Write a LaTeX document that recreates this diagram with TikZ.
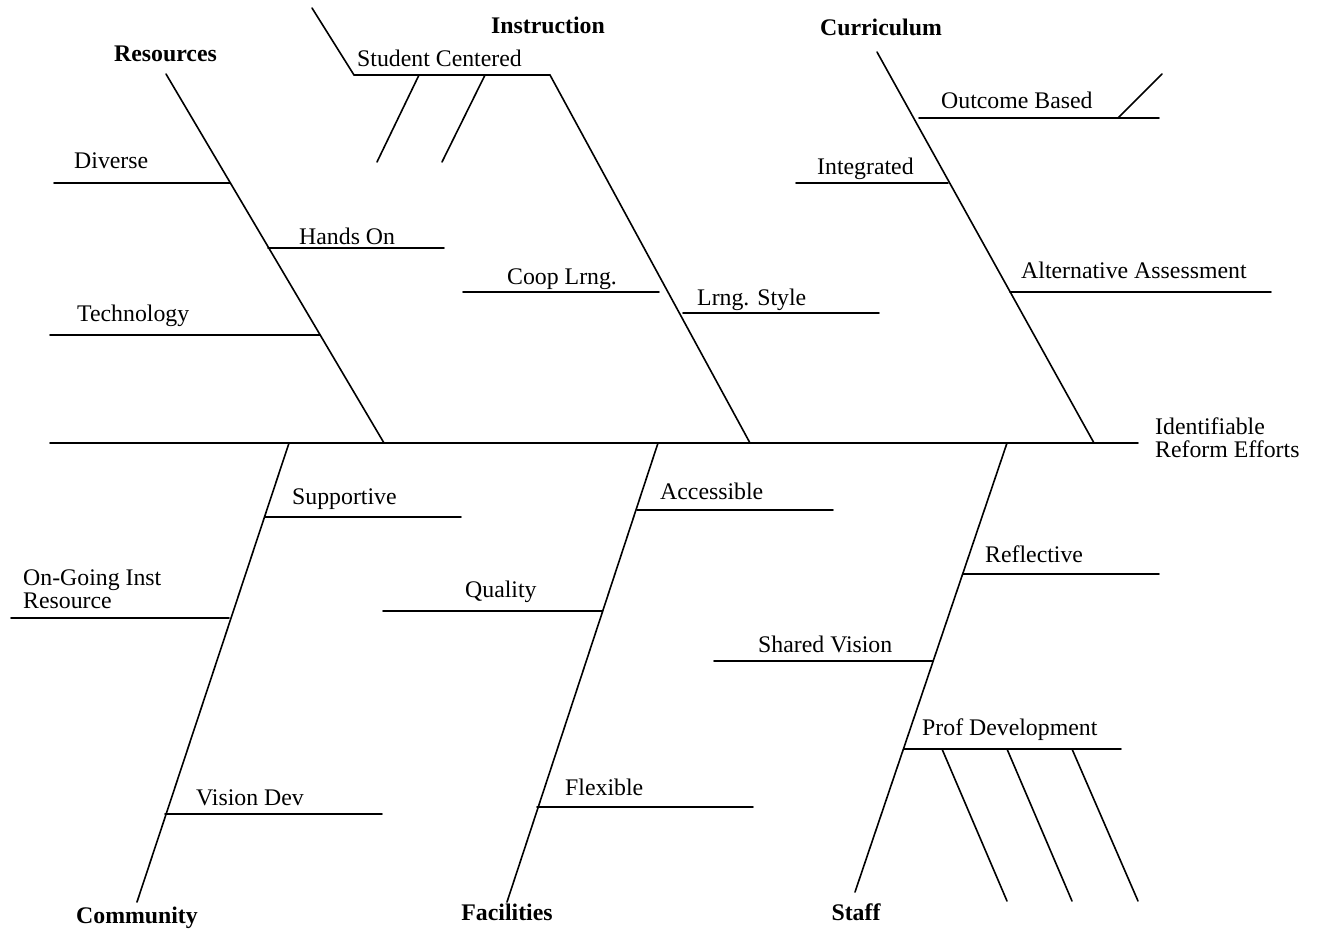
\documentclass[tikz,border=0pt]{standalone}
\usepackage{fontspec}
\setmainfont{Liberation Serif}
\begin{document}
\begin{tikzpicture}[x=1pt,y=-1pt,
  bone/.style={line width=1.6pt,line cap=round},
  lbl/.style={inner sep=0pt,anchor=base west,font=\fontsize{23.8}{23}\selectfont},
  head/.style={inner sep=0pt,anchor=base,font=\fontsize{23.8}{23}\selectfont\bfseries}]
\useasboundingbox (0,0) rectangle (1317,930);
% spine
\coordinate (sL) at (50,443);
\coordinate (sR) at (1138,443);
\draw[bone] (sL) -- (sR);
\node[lbl,align=left] (effect) at (1155,457) {Identifiable\\Reform Efforts};
% ---------- Resources ----------
\coordinate (resT) at (166,74);
\coordinate (resB) at (384,443);
\draw[bone] (resT) -- (resB);
\node[head] (res) at (165.5,61) {Resources};
\coordinate (divA) at (230,183); \coordinate (divE) at (54,183);
\draw[bone] (divA) -- (divE);
\node[lbl] (div) at (74,168) {Diverse};
\coordinate (hndA) at (268,248); \coordinate (hndE) at (444,248);
\draw[bone] (hndA) -- (hndE);
\node[lbl] (hnd) at (299,244) {Hands On};
\coordinate (tecA) at (320,335); \coordinate (tecE) at (50,335);
\draw[bone] (tecA) -- (tecE);
\node[lbl] (tec) at (77,321) {Technology};
% ---------- Instruction ----------
\coordinate (insT) at (550,75);
\coordinate (insB) at (750,443);
\draw[bone] (insT) -- (insB);
\node[head] (ins) at (548,33) {Instruction};
\coordinate (stuL) at (354,75); \coordinate (stuE) at (312,8);
\draw[bone] (insT) -- (stuL) -- (stuE);
\node[lbl] (stu) at (357,66) {Student Centered};
\coordinate (st1A) at (419,75); \coordinate (st1E) at (377,162);
\coordinate (st2A) at (485,75); \coordinate (st2E) at (442,162);
\draw[bone] (st1A) -- (st1E);
\draw[bone] (st2A) -- (st2E);
\coordinate (copA) at (659,292); \coordinate (copE) at (463,292);
\draw[bone] (copA) -- (copE);
\node[lbl] (cop) at (507,284) {Coop Lrng.};
\coordinate (lrnA) at (683,313); \coordinate (lrnE) at (879,313);
\draw[bone] (lrnA) -- (lrnE);
\node[lbl] (lrn) at (697,305) {Lrng. Style};
% ---------- Curriculum ----------
\coordinate (curT) at (877,52);
\coordinate (curB) at (1094,443);
\draw[bone] (curT) -- (curB);
\node[head] (cur) at (881,35) {Curriculum};
\coordinate (outA) at (919,118); \coordinate (outE) at (1159,118);
\draw[bone] (outA) -- (outE);
\coordinate (ouxA) at (1118,118); \coordinate (ouxE) at (1162,74);
\draw[bone] (ouxA) -- (ouxE);
\node[lbl] (out) at (941,108) {Outcome Based};
\coordinate (intA) at (948,183); \coordinate (intE) at (796,183);
\draw[bone] (intA) -- (intE);
\node[lbl] (int) at (817,174) {Integrated};
\coordinate (altA) at (1010,292); \coordinate (altE) at (1271,292);
\draw[bone] (altA) -- (altE);
\node[lbl] (alt) at (1021,278) {Alternative Assessment};
% ---------- Community ----------
\coordinate (comT) at (289,443);
\coordinate (comB) at (137,902);
\draw[bone] (comT) -- (comB);
\node[head] (com) at (137,923) {Community};
\coordinate (supA) at (265,517); \coordinate (supE) at (461,517);
\draw[bone] (supA) -- (supE);
\node[lbl] (sup) at (292,504) {Supportive};
\coordinate (ongA) at (229,618); \coordinate (ongE) at (11,618);
\draw[bone] (ongA) -- (ongE);
\node[lbl,align=left] (ong) at (23,608) {On-Going Inst\\Resource};
\coordinate (visA) at (165,814); \coordinate (visE) at (382,814);
\draw[bone] (visA) -- (visE);
\node[lbl] (vis) at (196,805) {Vision Dev};
% ---------- Facilities ----------
\coordinate (facT) at (658,443);
\coordinate (facB) at (507,902);
\draw[bone] (facT) -- (facB);
\node[head] (fac) at (507,920) {Facilities};
\coordinate (accA) at (637,510); \coordinate (accE) at (833,510);
\draw[bone] (accA) -- (accE);
\node[lbl] (acc) at (660,499) {Accessible};
\coordinate (quaA) at (602,611); \coordinate (quaE) at (383,611);
\draw[bone] (quaA) -- (quaE);
\node[lbl] (qua) at (465,597) {Quality};
\coordinate (flxA) at (537,807); \coordinate (flxE) at (753,807);
\draw[bone] (flxA) -- (flxE);
\node[lbl] (flx) at (565,795) {Flexible};
% ---------- Staff ----------
\coordinate (stfT) at (1007,443);
\coordinate (stfB) at (855,892);
\draw[bone] (stfT) -- (stfB);
\node[head] (stf) at (856,920) {Staff};
\coordinate (refA) at (963,574); \coordinate (refE) at (1159,574);
\draw[bone] (refA) -- (refE);
\node[lbl] (ref) at (985,562) {Reflective};
\coordinate (shvA) at (933,661); \coordinate (shvE) at (714,661);
\draw[bone] (shvA) -- (shvE);
\node[lbl] (shv) at (758,652) {Shared Vision};
\coordinate (pdvA) at (904,749); \coordinate (pdvE) at (1121,749);
\draw[bone] (pdvA) -- (pdvE);
\node[lbl] (pdv) at (922,735) {Prof Development};
\coordinate (pd1A) at (942,749); \coordinate (pd1E) at (1007,901);
\coordinate (pd2A) at (1007,749); \coordinate (pd2E) at (1072,901);
\coordinate (pd3A) at (1072,749); \coordinate (pd3E) at (1138,901);
\draw[bone] (pd1A) -- (pd1E);
\draw[bone] (pd2A) -- (pd2E);
\draw[bone] (pd3A) -- (pd3E);
\end{tikzpicture}
\end{document}
